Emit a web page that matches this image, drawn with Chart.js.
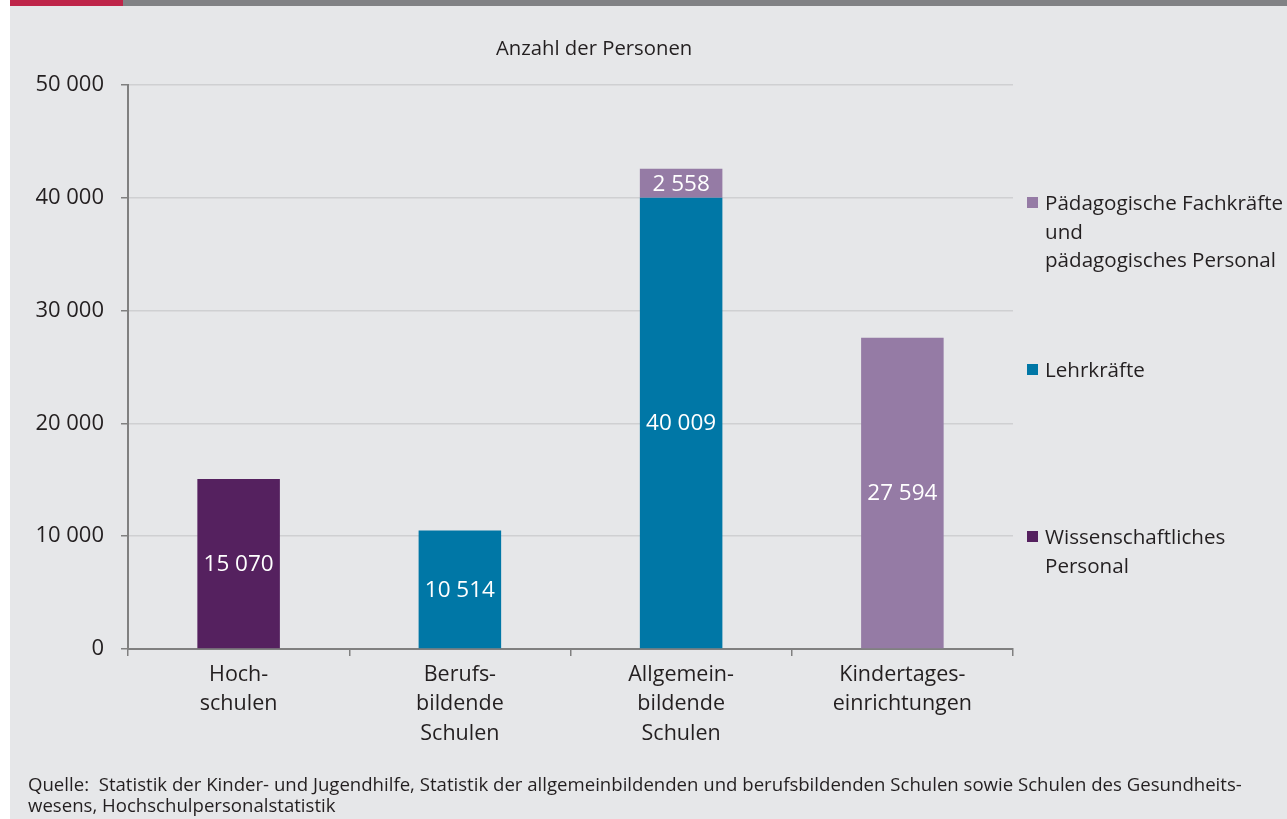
<!DOCTYPE html>
<html lang="de">
<head>
<meta charset="utf-8">
<script src="https://cdn.jsdelivr.net/npm/chart.js@4.4.0/dist/chart.umd.min.js"></script>
<style>
  body { margin: 0; background: #e6e7e9; font-family: "Open Sans", sans-serif; color: #231f20; }
  #page { position: relative; width: 1287px; height: 819px; overflow: hidden; }
  #strip { position: absolute; left: 0; top: 0; width: 10px; height: 819px; background: #ffffff; }
  #barRed { position: absolute; left: 10px; top: 0; width: 113px; height: 6px; background: #be2549; }
  #barGray { position: absolute; left: 123px; top: 0; width: 1164px; height: 6px; background: #818285; }
  #chart { position: absolute; left: 0; top: 0; }
  #title { position: absolute; left: 496px; top: 33px; font-size: 20.3px; white-space: nowrap; }
  #legend { position: absolute; left: 1027px; top: 0; font-size: 20.6px; line-height: 28.5px; }
  .item { position: absolute; left: 0; white-space: nowrap; }
  .item .box { position: absolute; left: 0; top: 9px; width: 11px; height: 11px; }
  .item .txt { position: absolute; left: 18px; top: 0; }
  #source { position: absolute; left: 28px; top: 773px; font-size: 18.6px; line-height: 21px; white-space: nowrap; }
</style>
</head>
<body>
<div id="page">
  <div id="strip"></div>
  <div id="barRed"></div>
  <div id="barGray"></div>
  <canvas id="chart" width="1287" height="819"></canvas>
  <div id="title">Anzahl der Personen</div>
  <div id="legend"></div>
  <div id="source">Quelle:&nbsp; Statistik der Kinder- und Jugendhilfe, Statistik der allgemeinbildenden und berufsbildenden Schulen sowie Schulen des Gesundheits-<br>wesens, Hochschulpersonalstatistik</div>
</div>
<script>
// categories (multi-line labels)
const categories = [
  ["Hoch-", "schulen"],
  ["Berufs-", "bildende", "Schulen"],
  ["Allgemein-", "bildende", "Schulen"],
  ["Kindertages-", "einrichtungen"]
];

// series values
const wissenschaftlich = [15070, 0, 0, 0];
const lehrkraefte = [0, 10514, 40009, 0];
const paedagogisch = [0, 0, 2558, 27594];

const yTicks = [0, 10000, 20000, 30000, 40000, 50000];

const colWiss = "#55215f";
const colLehr = "#0077a6";
const colPaed = "#957ba5";

function fmt(v) {
  return String(v).replace(/\B(?=(\d{3})+(?!\d))/g, " ");
}

// white numbers in the middle of each segment
const valueLabels = {
  id: "valueLabels",
  afterDatasetsDraw(chart) {
    const ctx = chart.ctx;
    ctx.save();
    ctx.fillStyle = "#ffffff";
    ctx.font = "22.5px 'Open Sans'";
    ctx.textAlign = "center";
    ctx.textBaseline = "middle";
    chart.data.datasets.forEach((ds, i) => {
      const meta = chart.getDatasetMeta(i);
      meta.data.forEach((bar, j) => {
        const v = ds.data[j];
        if (!v) return;
        ctx.fillText(fmt(v), bar.x, (bar.y + bar.base) / 2 + 1);
      });
    });
    ctx.restore();
  }
};

const chart = new Chart(document.getElementById("chart"), {
  type: "bar",
  data: {
    labels: categories,
    datasets: [
      { label: "Wissenschaftliches\nPersonal", data: wissenschaftlich, backgroundColor: colWiss },
      { label: "Lehrkräfte", data: lehrkraefte, backgroundColor: colLehr },
      { label: "Pädagogische Fachkräfte\nund\npädagogisches Personal", data: paedagogisch, backgroundColor: colPaed }
    ]
  },
  options: {
    responsive: false,
    animation: false,
    categoryPercentage: 1,
    barPercentage: 0.373,
    layout: { padding: { top: 85, right: 274, left: 0, bottom: 0 } },
    plugins: {
      legend: { display: false },
      tooltip: { enabled: false }
    },
    scales: {
      x: {
        stacked: true,
        offset: true,
        afterFit: (s) => { s.height = 170; },
        border: { color: "#808080", width: 2 },
        grid: {
          offset: true,
          drawOnChartArea: true,
          color: (c) => (c.index === categories.length ? "#c9cacc" : "rgba(0,0,0,0)"),
          tickColor: "#808080",
          tickLength: 7,
          lineWidth: 1.5
        },
        ticks: {
          color: "#231f20",
          padding: 4,
          maxRotation: 0,
          font: { family: "'Open Sans'", size: 21.5, lineHeight: 1.37 }
        }
      },
      y: {
        stacked: true,
        min: 0,
        max: 50000,
        afterFit: (s) => { s.width = 128; },
        afterBuildTicks: (s) => { s.ticks = yTicks.map((v) => ({ value: v })); },
        border: { color: "#808080", width: 2 },
        grid: {
          color: "#cfd0d2",
          lineWidth: 1.5,
          tickColor: "#808080",
          tickLength: 7
        },
        ticks: {
          color: "#231f20",
          padding: 17,
          font: { family: "'Open Sans'", size: 22 },
          callback: (v) => fmt(v)
        }
      }
    }
  },
  plugins: [valueLabels]
});

// legend on the right, in reverse order, spaced like the original
const legendTops = { 2: 188, 1: 355, 0: 522 };
const legendEl = document.getElementById("legend");
[2, 1, 0].forEach((i) => {
  const ds = chart.data.datasets[i];
  const item = document.createElement("div");
  item.className = "item";
  item.style.top = legendTops[i] + "px";
  const box = document.createElement("div");
  box.className = "box";
  box.style.background = ds.backgroundColor;
  const txt = document.createElement("div");
  txt.className = "txt";
  txt.innerHTML = ds.label.split("\n").join("<br>");
  item.appendChild(box);
  item.appendChild(txt);
  legendEl.appendChild(item);
});
</script>
</body>
</html>
